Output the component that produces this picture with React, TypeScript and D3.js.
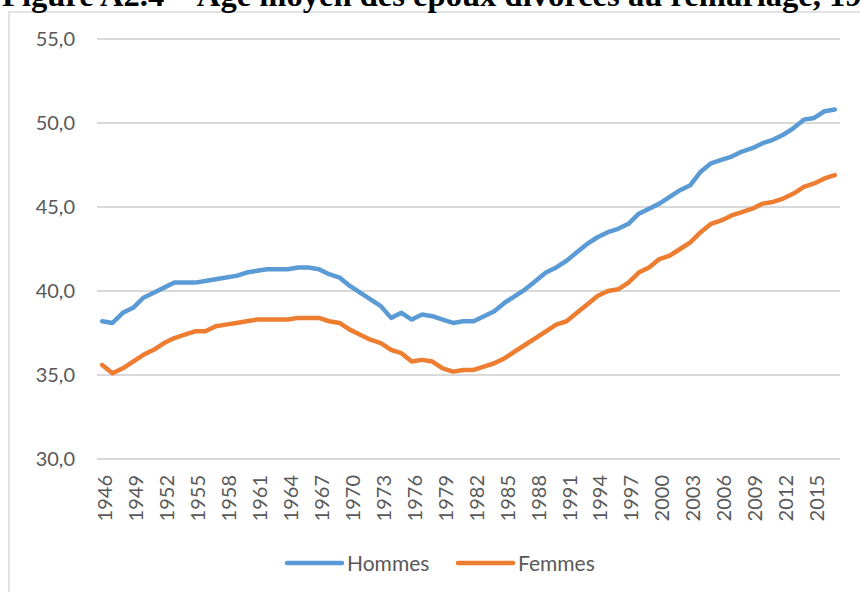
import React from "react";
import * as d3 from "d3";

// Âge moyen au remariage des divorcés, par sexe
const years: number[] = d3.range(1946, 2018);

const hommes: number[] = [
  38.2, 38.1, 38.7, 39.0, 39.6, 39.9, 40.2, 40.5, 40.5, 40.5,
  40.6, 40.7, 40.8, 40.9, 41.1, 41.2, 41.3, 41.3, 41.3, 41.4,
  41.4, 41.3, 41.0, 40.8, 40.3, 39.9, 39.5, 39.1, 38.4, 38.7,
  38.3, 38.6, 38.5, 38.3, 38.1, 38.2, 38.2, 38.5, 38.8, 39.3,
  39.7, 40.1, 40.6, 41.1, 41.4, 41.8, 42.3, 42.8, 43.2, 43.5,
  43.7, 44.0, 44.6, 44.9, 45.2, 45.6, 46.0, 46.3, 47.1, 47.6,
  47.8, 48.0, 48.3, 48.5, 48.8, 49.0, 49.3, 49.7, 50.2, 50.3,
  50.7, 50.8,
];

const femmes: number[] = [
  35.6, 35.1, 35.4, 35.8, 36.2, 36.5, 36.9, 37.2, 37.4, 37.6,
  37.6, 37.9, 38.0, 38.1, 38.2, 38.3, 38.3, 38.3, 38.3, 38.4,
  38.4, 38.4, 38.2, 38.1, 37.7, 37.4, 37.1, 36.9, 36.5, 36.3,
  35.8, 35.9, 35.8, 35.4, 35.2, 35.3, 35.3, 35.5, 35.7, 36.0,
  36.4, 36.8, 37.2, 37.6, 38.0, 38.2, 38.7, 39.2, 39.7, 40.0,
  40.1, 40.5, 41.1, 41.4, 41.9, 42.1, 42.5, 42.9, 43.5, 44.0,
  44.2, 44.5, 44.7, 44.9, 45.2, 45.3, 45.5, 45.8, 46.2, 46.4,
  46.7, 46.9,
];

const yTicks: number[] = [30, 35, 40, 45, 50, 55];
const xTickYears: number[] = d3.range(1946, 2018, 3);

const seriesNames: string[] = ["Hommes", "Femmes"];
const seriesColors: string[] = ["#5B9BD5", "#ED7D31"];

const title = "Figure A2.4 – Âge moyen des époux divorcés au remariage, 1946-2017";

const W = 860;
const H = 592;
const plot = { left: 97, right: 840, top: 39, bottom: 459 };
const labelFont = "Lato, 'Open Sans', sans-serif";
const textColor = "#595959";
const gridColor = "#D9D9D9";

export default function App() {
  const x = d3
    .scalePoint<number>()
    .domain(years)
    .range([plot.left, plot.right])
    .padding(0.5);
  const y = d3.scaleLinear().domain([30, 55]).range([plot.bottom, plot.top]);

  const fmt = (v: number) => v.toFixed(1).replace(".", ",");

  const line = d3
    .line<number>()
    .x((_, i) => x(years[i]) as number)
    .y((d) => y(d))
    .curve(d3.curveLinear);

  const series = [hommes, femmes];

  const legend = [
    { x1: 287, x2: 342, tx: 347 },
    { x1: 458, x2: 513, tx: 518 },
  ];
  const legendY = 563;

  return (
    <svg
      width={W}
      height={H}
      style={{ position: "absolute", left: 0, top: 0, background: "#fff" }}
    >
      {/* chart frame */}
      <path
        d={`M9,${H} V12 H${W + 2}`}
        fill="none"
        stroke={gridColor}
        strokeWidth={1.5}
      />
      {/* title, running off the top and right edges */}
      <text
        x={2}
        y={6}
        fontFamily="'Liberation Serif', 'Times New Roman', serif"
        fontWeight="bold"
        fontSize={32.6}
        fill="#000"
      >
        {title}
      </text>

      {/* gridlines and y labels */}
      {yTicks.map((t) => (
        <g key={t}>
          <line
            x1={plot.left}
            x2={plot.right}
            y1={y(t)}
            y2={y(t)}
            stroke={gridColor}
            strokeWidth={1.8}
          />
          <text
            x={75}
            y={y(t)}
            dy="0.36em"
            textAnchor="end"
            fontFamily={labelFont}
            fontSize={20}
            fill={textColor}
          >
            {fmt(t)}
          </text>
        </g>
      ))}

      {/* x labels */}
      {xTickYears.map((yr) => (
        <text
          key={yr}
          transform={`translate(${x(yr)},${plot.bottom + 16}) rotate(-90)`}
          dy="0.5em"
          textAnchor="end"
          fontFamily={labelFont}
          fontSize={20}
          fill={textColor}
        >
          {yr}
        </text>
      ))}

      {/* series */}
      {series.map((s, i) => (
        <path
          key={seriesNames[i]}
          d={line(s) ?? ""}
          fill="none"
          stroke={seriesColors[i]}
          strokeWidth={4.5}
          strokeLinejoin="round"
          strokeLinecap="round"
        />
      ))}

      {/* legend */}
      {seriesNames.map((n, i) => (
        <g key={n}>
          <line
            x1={legend[i].x1}
            x2={legend[i].x2}
            y1={legendY}
            y2={legendY}
            stroke={seriesColors[i]}
            strokeWidth={4.5}
            strokeLinecap="round"
          />
          <text
            x={legend[i].tx}
            y={legendY}
            dy="0.36em"
            fontFamily={labelFont}
            fontSize={21}
            fill={textColor}
          >
            {n}
          </text>
        </g>
      ))}
    </svg>
  );
}
